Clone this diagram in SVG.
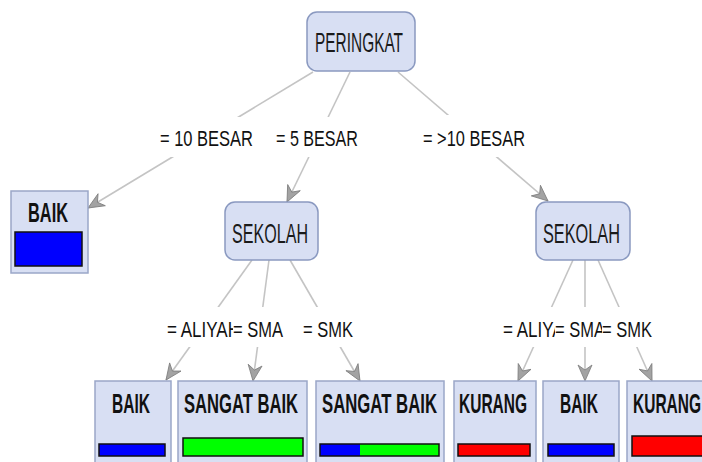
<svg xmlns="http://www.w3.org/2000/svg" width="702" height="462" viewBox="0 0 702 462">
<style>
.node rect.box{fill:#d8dff3;stroke:#8a99c0;stroke-width:1.5}
.leaf rect.box{fill:#d8dff3;stroke:#9aa7c8;stroke-width:1.5}
.nt{font-family:"Liberation Sans",Arial,sans-serif;font-size:28px;fill:#1a1a1a}
.lt{font-family:"Liberation Sans",Arial,sans-serif;font-size:28px;font-weight:bold;fill:#111}
.et{font-family:"Liberation Sans",Arial,sans-serif;font-size:22px;fill:#111}
.edge line{stroke:#c4c4c4;stroke-width:1.6}
.lbg{fill:#fff}
.bar{stroke:#111;stroke-width:1.5}
</style>
<defs>
<marker id="arr" markerUnits="userSpaceOnUse" markerWidth="24" markerHeight="20" viewBox="-18 -10 20 20" refX="0" refY="0" orient="auto">
<path d="M0,0 L-16,-7 L-11,0 L-16,7 Z" fill="#a3a3a3" stroke="#7e7e7e" stroke-width="0.8"/>
</marker>
</defs>
<g id="connectors" class="edge">
<line x1="313" y1="72" x2="88" y2="208" marker-end="url(#arr)"/>
<line x1="350" y1="72" x2="287" y2="202" marker-end="url(#arr)"/>
<line x1="398" y1="72" x2="548" y2="201" marker-end="url(#arr)"/>
<line x1="252" y1="260" x2="166" y2="380" marker-end="url(#arr)"/>
<line x1="269" y1="260" x2="253" y2="381" marker-end="url(#arr)"/>
<line x1="290" y1="260" x2="360" y2="381" marker-end="url(#arr)"/>
<line x1="573" y1="260" x2="518" y2="381" marker-end="url(#arr)"/>
<line x1="585" y1="260" x2="585" y2="381" marker-end="url(#arr)"/>
<line x1="598" y1="260" x2="652" y2="381" marker-end="url(#arr)"/>
</g>
<g id="edge-labels">
<rect class="lbg" x="158" y="117" width="97" height="40"/>
<text class="et" x="160" y="146" textLength="93" lengthAdjust="spacingAndGlyphs">= 10 BESAR</text>
<rect class="lbg" x="274" y="117" width="86" height="40"/>
<text class="et" x="276" y="146" textLength="82" lengthAdjust="spacingAndGlyphs">= 5 BESAR</text>
<rect class="lbg" x="421" y="115" width="106" height="42"/>
<text class="et" x="423" y="146" textLength="102" lengthAdjust="spacingAndGlyphs">= &gt;10 BESAR</text>
<rect class="lbg" x="166" y="307" width="75" height="40"/>
<text class="et" x="167" y="337" textLength="73" lengthAdjust="spacingAndGlyphs">= ALIYAH</text>
<rect class="lbg" x="233" y="307" width="52" height="40"/>
<text class="et" x="233" y="337" textLength="50" lengthAdjust="spacingAndGlyphs">= SMA</text>
<rect class="lbg" x="302" y="307" width="53" height="40"/>
<text class="et" x="303" y="337" textLength="50" lengthAdjust="spacingAndGlyphs">= SMK</text>
<rect class="lbg" x="502" y="307" width="75" height="40"/>
<text class="et" x="503" y="337" textLength="73" lengthAdjust="spacingAndGlyphs">= ALIYAH</text>
<rect class="lbg" x="555" y="307" width="52" height="40"/>
<text class="et" x="555" y="337" textLength="50" lengthAdjust="spacingAndGlyphs">= SMA</text>
<rect class="lbg" x="602" y="307" width="53" height="40"/>
<text class="et" x="602" y="337" textLength="50" lengthAdjust="spacingAndGlyphs">= SMK</text>
</g>
<g id="n-peringkat" class="node">
<rect class="box" x="307" y="12" width="108" height="59" rx="10"/>
<text class="nt" x="315" y="52" textLength="88" lengthAdjust="spacingAndGlyphs">PERINGKAT</text>
</g>
<g id="n-sekolah1" class="node">
<rect class="box" x="225" y="202" width="93" height="58" rx="10"/>
<text class="nt" x="232" y="243" textLength="76" lengthAdjust="spacingAndGlyphs">SEKOLAH</text>
</g>
<g id="n-sekolah2" class="node">
<rect class="box" x="536" y="202" width="94" height="58" rx="10"/>
<text class="nt" x="543" y="243" textLength="77" lengthAdjust="spacingAndGlyphs">SEKOLAH</text>
</g>
<g id="l-baik0" class="leaf">
<rect class="box" x="11" y="191" width="77" height="82"/>
<text class="lt" x="28" y="222" textLength="40" lengthAdjust="spacingAndGlyphs">BAIK</text>
<rect class="bar" x="15" y="232" width="67" height="34" fill="#0000ff"/>
</g>
<g id="l-baik1" class="leaf">
<rect class="box" x="95" y="381" width="76" height="90"/>
<text class="lt" x="112" y="413" textLength="38" lengthAdjust="spacingAndGlyphs">BAIK</text>
<rect class="bar" x="99" y="444" width="66" height="12" fill="#0000ff"/>
</g>
<g id="l-sangatbaik1" class="leaf">
<rect class="box" x="178" y="381" width="129" height="90"/>
<text class="lt" x="184" y="413" textLength="114" lengthAdjust="spacingAndGlyphs">SANGAT BAIK</text>
<rect class="bar" x="183" y="438" width="120" height="18" fill="#00ff00"/>
</g>
<g id="l-sangatbaik2" class="leaf">
<rect class="box" x="316" y="381" width="128" height="90"/>
<text class="lt" x="322" y="413" textLength="115" lengthAdjust="spacingAndGlyphs">SANGAT BAIK</text>
<rect x="320" y="444" width="40" height="12" fill="#0000ff"/>
<rect x="360" y="444" width="79" height="12" fill="#00ff00"/>
<rect class="bar" x="320" y="444" width="119" height="12" fill="none"/>
</g>
<g id="l-kurang1" class="leaf">
<rect class="box" x="454" y="381" width="82" height="90"/>
<text class="lt" x="459" y="413" textLength="68" lengthAdjust="spacingAndGlyphs">KURANG</text>
<rect class="bar" x="458" y="444" width="72" height="12" fill="#ff0000"/>
</g>
<g id="l-baik2" class="leaf">
<rect class="box" x="543" y="381" width="76" height="90"/>
<text class="lt" x="560" y="413" textLength="38" lengthAdjust="spacingAndGlyphs">BAIK</text>
<rect class="bar" x="548" y="444" width="66" height="12" fill="#0000ff"/>
</g>
<g id="l-kurang2" class="leaf">
<rect class="box" x="627" y="381" width="90" height="90"/>
<text class="lt" x="633" y="413" textLength="68" lengthAdjust="spacingAndGlyphs">KURANG</text>
<rect class="bar" x="632" y="436" width="80" height="20" fill="#ff0000"/>
</g>
</svg>
